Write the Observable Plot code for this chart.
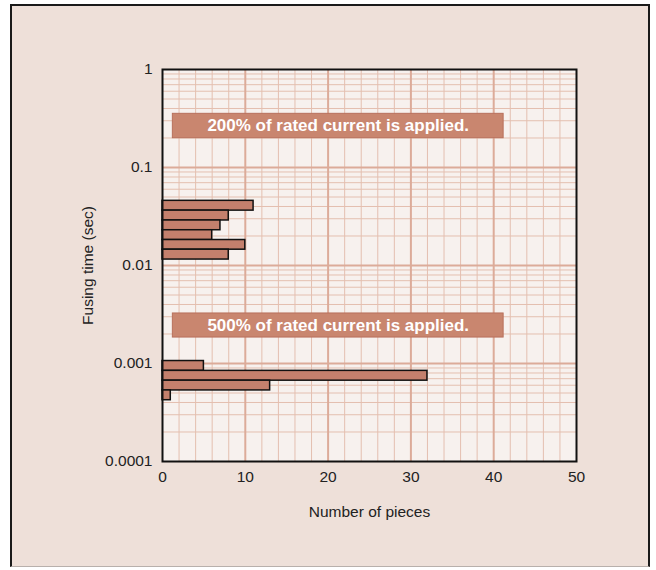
<!DOCTYPE html>
<html>
<head>
<meta charset="utf-8">
<script src="https://cdn.jsdelivr.net/npm/d3@7"></script>
<script src="https://cdn.jsdelivr.net/npm/@observablehq/plot@0.6"></script>
<style>
  html, body { margin: 0; padding: 0; background: #ffffff; }
  #wrap { position: relative; width: 656px; height: 570px; }
  #frame { position: absolute; left: 10px; top: 4px; width: 640px; height: 563px;
           background: #EEE0D9; border: 2px solid #1a1a1a; border-bottom: 1px solid #b8b0ac; box-sizing: border-box; }
  #chart { position: absolute; left: 0; top: 0; }
</style>
</head>
<body>
<div id="wrap"><div id="frame"></div><div id="chart"></div></div>
<script>
// ---- data ----
// 200% of rated current: bin edges (seconds, top to bottom) and counts
const binEdges200 = [0.0457, 0.0363, 0.0288, 0.0229, 0.0182, 0.0145, 0.0115];
const counts200 = [11, 8, 7, 6, 10, 8];
// 500% of rated current
const binEdges500 = [0.00106, 0.000841, 0.000668, 0.000531, 0.000422];
const counts500 = [5, 32, 13, 1];

const xTicks = [0, 10, 20, 30, 40, 50];
const yTicks = [0.0001, 0.001, 0.01, 0.1, 1];
const yTickLabels = ["0.0001", "0.001", "0.01", "0.1", "1"];

const noteTexts = ["200% of rated current is applied.", "500% of rated current is applied."];
const noteX = [[1.25, 41.2], [1.25, 41.2]];
const noteY = [[0.353, 0.199], [0.00324, 0.00184]];

const xLabel = "Number of pieces";
const yLabel = "Fusing time (sec)";

// ---- derived tables ----
const bars = [];
counts200.forEach((c, i) => bars.push({y1: binEdges200[i], y2: binEdges200[i + 1], x: c}));
counts500.forEach((c, i) => bars.push({y1: binEdges500[i], y2: binEdges500[i + 1], x: c}));
const notes = noteTexts.map((t, i) => ({text: t, x1: noteX[i][0], x2: noteX[i][1], y1: noteY[i][0], y2: noteY[i][1]}));

const minorX = d3.range(2, 50, 2).filter(v => v % 10 !== 0);
const majorX = [10, 20, 30, 40];
const minorY = [];
for (let e = -4; e < 0; e++) for (let m = 2; m <= 9; m++) minorY.push(m * Math.pow(10, e));
const majorY = [0.001, 0.01, 0.1];

const gridMinor = "#E4BFB0";
const gridMajor = "#DCAB99";
const font = "'Liberation Sans', Arial, Helvetica, sans-serif";

const chart = Plot.plot({
  width: 656,
  height: 570,
  marginLeft: 162,
  marginRight: 80,
  marginTop: 69,
  marginBottom: 109,
  style: {background: "transparent", fontFamily: font, fontSize: "15.5px", color: "#222"},
  x: {domain: [0, 50], label: null},
  y: {type: "log", domain: [0.0001, 1], label: null},
  marks: [
    Plot.frame({fill: "#F7F1EE", stroke: null}),
    Plot.ruleX(minorX, {stroke: gridMinor, strokeWidth: 1}),
    Plot.ruleY(minorY, {stroke: gridMinor, strokeWidth: 1}),
    Plot.ruleX(majorX, {stroke: gridMajor, strokeWidth: 2}),
    Plot.ruleY(majorY, {stroke: gridMajor, strokeWidth: 2}),
    Plot.rect(bars, {x1: 0, x2: "x", y1: "y1", y2: "y2", fill: "#C4806D", stroke: "#111", strokeWidth: 1.5}),
    Plot.rect(notes, {x1: "x1", x2: "x2", y1: "y1", y2: "y2", fill: "#C9866F", stroke: "#B8705C", strokeWidth: 1}),
    Plot.text(notes, {x: d => (d.x1 + d.x2) / 2, y: d => Math.sqrt(d.y1 * d.y2), text: "text",
      fill: "white", fontWeight: "bold", fontSize: 17}),
    Plot.axisX({ticks: xTicks, tickSize: 0, tickPadding: 9, label: null, fontSize: 15.5}),
    Plot.axisY({ticks: yTicks, tickSize: 0, tickPadding: 10, label: null, fontSize: 15.5,
      tickFormat: d => yTickLabels[yTicks.indexOf(d)]}),
    Plot.text([xLabel], {frameAnchor: "bottom", dy: 51, text: d => d, fontSize: 15.5, lineAnchor: "middle", textAnchor: "middle"}),
    Plot.text([yLabel], {frameAnchor: "left", dx: -74, rotate: -90, text: d => d, fontSize: 15.5, lineAnchor: "middle", textAnchor: "middle"}),
    Plot.frame({stroke: "#111", strokeWidth: 2})
  ]
});
document.getElementById("chart").appendChild(chart);
</script>
</body>
</html>
